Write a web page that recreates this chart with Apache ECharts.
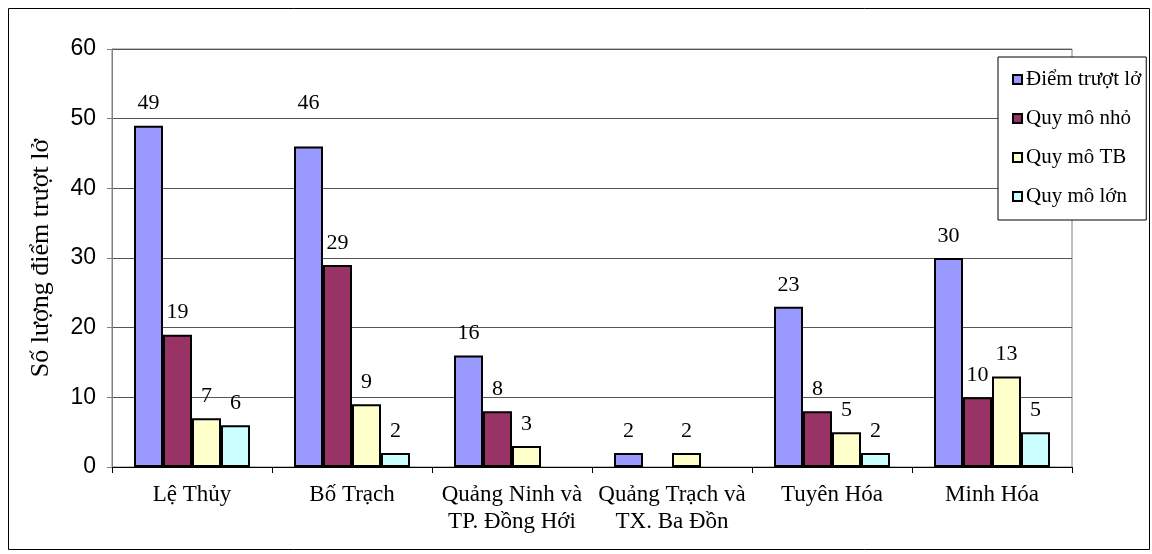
<!DOCTYPE html>
<html lang="vi">
<head>
<meta charset="UTF-8">
<title>Số lượng điểm trượt lở</title>
<script src="https://cdn.jsdelivr.net/npm/echarts@6/dist/echarts.min.js"></script>
</head>
<body style="margin:0">
<div id="main" style="width:1152px;height:554px;"></div>
<script type="text/javascript">
// data
const categories = ['Lệ Thủy', 'Bố Trạch', 'Quảng Ninh và\nTP. Đồng Hới', 'Quảng Trạch và\nTX. Ba Đồn', 'Tuyên Hóa', 'Minh Hóa'];
const diemTruotLo = [49, 46, 16, 2, 23, 30];
const quyMoNho = [19, 29, 8, 0, 8, 10];
const quyMoTB = [7, 9, 3, 2, 5, 13];
const quyMoLon = [6, 2, 0, 0, 2, 5];
const seriesNames = ['Điểm trượt lở', 'Quy mô nhỏ', 'Quy mô TB', 'Quy mô lớn'];
const colors = ['#9999FF', '#993366', '#FFFFCC', '#CCFFFF'];

const serif = '"Liberation Serif", "DejaVu Serif", serif';
const sans = '"Liberation Sans", Arial, sans-serif';

function makeSeries(name, data, color) {
  return {
    name: name,
    type: 'bar',
    // zero values are left empty (no bar, no label)
    data: data.map((v) => v === 0 ? null : v),
    barWidth: 29,
    barGap: '0%',
    itemStyle: { color: color, borderColor: '#000', borderWidth: 2 },
    label: {
      show: true,
      position: 'top',
      distance: 11,
      fontFamily: serif,
      fontSize: 22,
      color: '#000'
    }
  };
}

let series = [
  makeSeries(seriesNames[0], diemTruotLo, colors[0]),
  makeSeries(seriesNames[1], quyMoNho, colors[1]),
  makeSeries(seriesNames[2], quyMoTB, colors[2]),
  makeSeries(seriesNames[3], quyMoLon, colors[3])
];
// the "46" label sits higher in the original chart
series[0].data[1] = { value: diemTruotLo[1], label: { offset: [0, -21] } };

let options = {
  animation: false,
  backgroundColor: '#fff',
  grid: { left: 112, right: 80, top: 49, bottom: 87, show: true, borderColor: '#808080', borderWidth: 1 },
  legend: {
    orient: 'vertical',
    left: 998,
    top: 57,
    padding: [12, 5, 13, 14],
    itemGap: 18,
    itemWidth: 9,
    itemHeight: 9,
    backgroundColor: '#fff',
    borderColor: '#000',
    borderWidth: 1,
    icon: 'rect',
    itemStyle: { borderColor: '#000', borderWidth: 2 },
    textStyle: { fontFamily: serif, fontSize: 21, color: '#000', padding: [0, 0, 0, -1] },
    data: seriesNames
  },
  xAxis: {
    type: 'category',
    data: categories,
    axisLine: { lineStyle: { color: '#000' } },
    axisTick: { show: true, length: 6, lineStyle: { color: '#000' } },
    axisLabel: { fontFamily: serif, fontSize: 23, color: '#000', margin: 14, lineHeight: 27, interval: 0 }
  },
  yAxis: {
    type: 'value',
    min: 0,
    max: 60,
    interval: 10,
    name: 'Số lượng điểm trượt lở',
    nameLocation: 'middle',
    nameGap: 58,
    nameTextStyle: { fontFamily: serif, fontSize: 26, color: '#000' },
    axisLine: { show: true, lineStyle: { color: '#808080' } },
    axisTick: { show: true, length: 5, lineStyle: { color: '#808080' } },
    axisLabel: { fontFamily: sans, fontSize: 23, color: '#000', margin: 16 },
    splitLine: { lineStyle: { color: '#555', width: 1 } }
  },
  graphic: [{
    type: 'rect',
    shape: { x: 8.5, y: 8.5, width: 1141, height: 541 },
    style: { fill: 'none', stroke: '#000', lineWidth: 1 },
    z: -1
  }],
  series: series
};

let myChart = echarts.init(document.getElementById('main'));
myChart.setOption(options);
</script>
</body>
</html>
